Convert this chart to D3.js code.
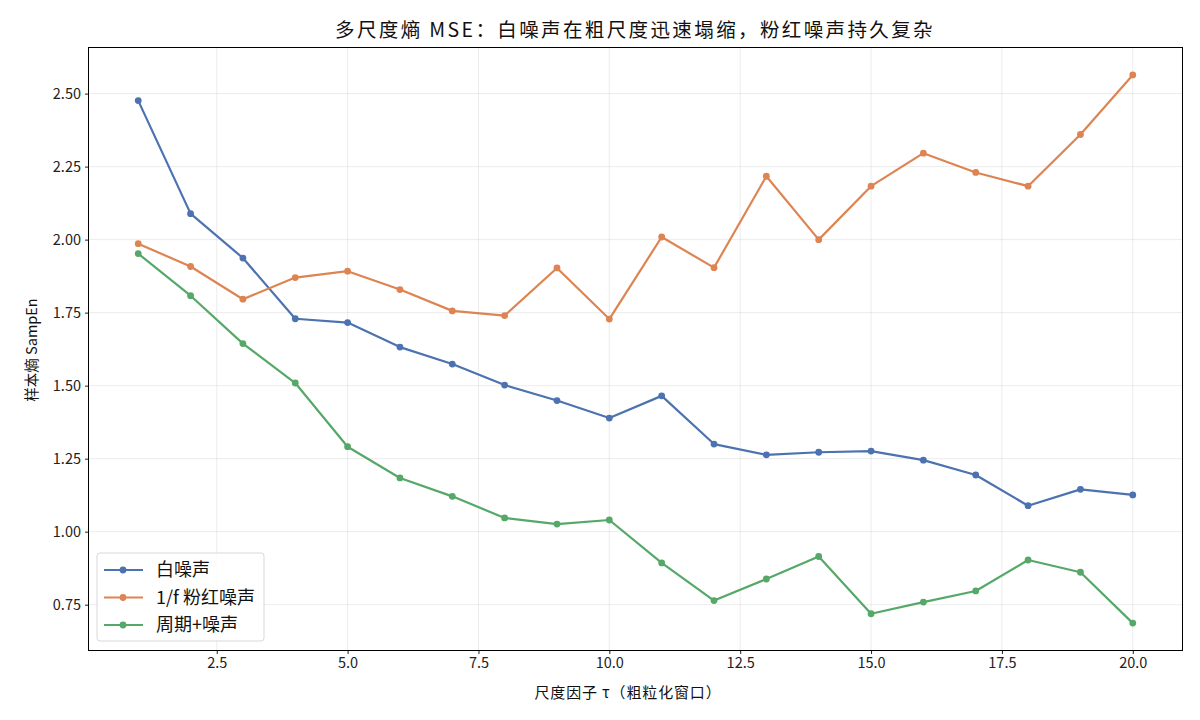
<!DOCTYPE html>
<html><head><meta charset="utf-8">
<script src="https://cdn.jsdelivr.net/npm/d3@7"></script>
<style>body{margin:0;background:#fff}svg{display:block;font-family:"Noto Sans CJK SC","Noto Sans",sans-serif}</style>
</head><body><svg id="c" width="1200" height="720"></svg>
<script>
const taus = [1,2,3,4,5,6,7,8,9,10,11,12,13,14,15,16,17,18,19,20];
const whiteNoise = [2.476,2.089,1.937,1.729,1.716,1.632,1.574,1.502,1.449,1.389,1.465,1.300,1.263,1.272,1.276,1.245,1.194,1.089,1.145,1.126];
const pinkNoise = [1.986,1.908,1.796,1.870,1.892,1.829,1.756,1.740,1.903,1.728,2.009,1.904,2.217,2.000,2.183,2.296,2.230,2.183,2.360,2.564];
const periodicNoise = [1.952,1.808,1.644,1.509,1.291,1.184,1.121,1.047,1.026,1.040,0.893,0.764,0.838,0.915,0.719,0.759,0.797,0.903,0.861,0.687];
const seriesNames = ["白噪声","1/f 粉红噪声","周期+噪声"];
const colors = ["#4C72B0","#DD8452","#55A868"];
const xTicks = [2.5,5,7.5,10,12.5,15,17.5,20];
const yTicks = [0.75,1.0,1.25,1.5,1.75,2.0,2.25,2.5];
const title = "多尺度熵 MSE：白噪声在粗尺度迅速塌缩，粉红噪声持久复杂";
const xLabel = "尺度因子 τ（粗粒化窗口）";
const yLabel = "样本熵 SampEn";

const svg = d3.select("#c");
const L=88.5,R=1182.5,T=47.5,B=650.5;
const allVals = whiteNoise.concat(pinkNoise, periodicNoise);
const ymin=d3.min(allVals), ymax=d3.max(allVals), yr=ymax-ymin;
const x = d3.scaleLinear().domain([1-19*0.05,20+19*0.05]).range([L,R]);
const y = d3.scaleLinear().domain([ymin-yr*0.05,ymax+yr*0.05]).range([B,T]);

function fit(sel, target){
  const s=+sel.attr("font-size");
  const len=sel.node().getComputedTextLength();
  if(len>0) sel.attr("font-size", s*target/len);
  return +sel.attr("font-size");
}
function spaceFit(sel, target){
  const len=sel.node().getComputedTextLength();
  const n=sel.text().length;
  if(len>0 && len<target) sel.attr("letter-spacing", (target-len)/n);
}

// grid
svg.append("g").selectAll("line").data(xTicks).join("line")
  .attr("x1",d=>x(d)).attr("x2",d=>x(d)).attr("y1",T).attr("y2",B)
  .attr("stroke","#b0b0b0").attr("stroke-opacity",0.3).attr("stroke-width",0.8);
svg.append("g").selectAll("line").data(yTicks).join("line")
  .attr("y1",d=>y(d)).attr("y2",d=>y(d)).attr("x1",L).attr("x2",R)
  .attr("stroke","#b0b0b0").attr("stroke-opacity",0.3).attr("stroke-width",0.8);

// axes
const xa = svg.append("g").attr("transform",`translate(0,${B})`)
  .call(d3.axisBottom(x).tickValues(xTicks).tickFormat(d3.format(".1f")).tickSize(3.5).tickPadding(4));
const ya = svg.append("g").attr("transform",`translate(${L},0)`)
  .call(d3.axisLeft(y).tickValues(yTicks).tickFormat(d3.format(".2f")).tickSize(3.5).tickPadding(4));
[xa,ya].forEach(a=>{a.select(".domain").remove();a.selectAll("text").attr("font-size",14.5).attr("fill","#222").attr("font-family","'Noto Sans CJK SC',sans-serif");a.selectAll("line").attr("stroke","#222");});

// series
const series=[whiteNoise,pinkNoise,periodicNoise];
const line=d3.line().x((d,i)=>x(taus[i])).y(d=>y(d));
series.forEach((s,k)=>{
  svg.append("path").datum(s).attr("d",line).attr("fill","none")
    .attr("stroke",colors[k]).attr("stroke-width",2.2).attr("stroke-linejoin","round");
  svg.append("g").selectAll("circle").data(s).join("circle")
    .attr("cx",(d,i)=>x(taus[i])).attr("cy",d=>y(d)).attr("r",3.4).attr("fill",colors[k]);
});

// frame
svg.append("rect").attr("x",L).attr("y",T).attr("width",R-L).attr("height",B-T)
  .attr("fill","none").attr("stroke","#000").attr("stroke-width",1);

// title & labels
const tt=svg.append("text").attr("x",635).attr("y",37).attr("text-anchor","middle")
  .attr("font-size",19.5).attr("fill","#111").text(title);
spaceFit(tt,600);
const xl=svg.append("text").attr("x",628).attr("y",698).attr("text-anchor","middle")
  .attr("font-size",15).attr("fill","#111").text(xLabel);
spaceFit(xl,187);
svg.append("text").attr("transform",`translate(37,${350}) rotate(-90)`).attr("text-anchor","middle")
  .attr("font-size",14.5).attr("fill","#111").text(yLabel);

// legend
const lg=svg.append("g");
lg.append("rect").attr("x",97).attr("y",553).attr("width",167).attr("height",88).attr("rx",3)
  .attr("fill","#fff").attr("fill-opacity",0.8).attr("stroke","#d8d8d8");
let legSize=16;
seriesNames.forEach((n,k)=>{
  const yy=570+k*27.5;
  lg.append("line").attr("x1",104).attr("x2",143).attr("y1",yy).attr("y2",yy).attr("stroke",colors[k]).attr("stroke-width",2.2);
  lg.append("circle").attr("cx",123).attr("cy",yy).attr("r",3.4).attr("fill",colors[k]);
  const t=lg.append("text").attr("class","lt").attr("x",156).attr("y",yy+6).attr("font-size",legSize).attr("fill","#111").text(n);
  if(k===1) legSize=fit(t,99);
});
lg.selectAll(".lt").attr("font-size",legSize);
</script></body></html>
